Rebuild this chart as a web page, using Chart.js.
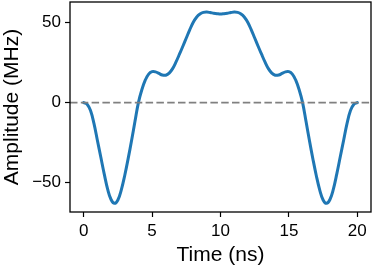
<!DOCTYPE html>
<html><head><meta charset="utf-8">
<script src="https://cdn.jsdelivr.net/npm/chart.js@4/dist/chart.umd.min.js"></script>
<style>html,body{margin:0;padding:0;background:#fff}#w{width:374px;height:269px}</style>
</head><body><div id="w"><canvas id="c"></canvas></div>
<script>
const timeNs = [0,0.25,0.5,0.75,1,1.25,1.5,1.75,2,2.25,2.5,2.75,3,3.25,3.5,3.75,4,4.25,4.5,4.75,5,5.25,5.5,5.75,6,6.25,6.5,6.75,7,7.25,7.5,7.75,8,8.25,8.5,8.75,9,9.25,9.5,9.75,10,10.25,10.5,10.75,11,11.25,11.5,11.75,12,12.25,12.5,12.75,13,13.25,13.5,13.75,14,14.25,14.5,14.75,15,15.25,15.5,15.75,16,16.25,16.5,16.75,17,17.25,17.5,17.75,18,18.25,18.5,18.75,19,19.25,19.5,19.75,20];
const amplitude = [0,-1,-5,-13,-23.5,-34,-44.5,-54,-60.5,-62.9,-60.8,-54.5,-45.5,-35,-23.7,-11.7,0,8,14,17.8,19.3,19.2,18.2,17.2,17.1,18.4,21.2,25.4,30.2,35.2,40.3,45.4,50,53.3,55.3,56.3,56.5,56.2,55.8,55.5,55.3,55.5,55.8,56.2,56.5,56.3,55.3,53.3,50,45.4,40.3,35.2,30.2,25.4,21.2,18.4,17.1,17.2,18.2,19.2,19.3,17.8,14,8,0,-11.7,-23.7,-35,-45.5,-54.5,-60.8,-62.9,-60.5,-54,-44.5,-34,-23.5,-13,-5,-1,0];
const refLineX = [-1, 21];
const refLineY = [0, 0];
const xTicks = [0,5,10,15,20];
const yTicks = [-50,0,50];

const FONT = "'Liberation Sans', Arial, sans-serif";
const frame = {
  id:'frame',
  afterDraw(chart){
    const a = chart.chartArea, ctx = chart.ctx;
    ctx.save(); ctx.strokeStyle='#000'; ctx.lineWidth=1.3;
    ctx.strokeRect(a.left, a.top, a.right-a.left, a.bottom-a.top);
    ctx.restore();
  }
};
new Chart(document.getElementById('c'), {
  type:'line',
  data:{datasets:[
    {data: refLineX.map((x,i)=>({x, y: refLineY[i]})), borderColor:'#808080', borderWidth:1.6, borderDash:[7.5,3.3], pointRadius:0, fill:false},
    {data: timeNs.map((x,i)=>({x, y: amplitude[i]})), borderColor:'#1f77b4', borderWidth:3, pointRadius:0, tension:0.4, borderCapStyle:'round', borderJoinStyle:'round', fill:false}
  ]},
  plugins:[frame],
  options:{
    responsive:true, maintainAspectRatio:false, animation:false,
    layout:{padding:{top:2,right:3,left:0,bottom:0}},
    plugins:{legend:{display:false}, tooltip:{enabled:false}},
    scales:{
      x:{type:'linear', min:-1, max:21,
        afterBuildTicks(s){ s.ticks = xTicks.map(v=>({value:v})); },
        afterFit(s){ s.height = 57; s.paddingLeft = 0; s.paddingRight = 0; },
        grid:{drawOnChartArea:false, tickLength:5, tickColor:'#000', tickWidth:1.2},
        border:{display:false},
        ticks:{color:'#000', font:{family:FONT, size:17}, padding:4, maxRotation:0},
        title:{display:true, text:'Time (ns)', color:'#000', font:{family:FONT, size:21}, padding:{top:0,bottom:1}}
      },
      y:{type:'linear', min:-68.3, max:62.8,
        afterBuildTicks(s){ s.ticks = yTicks.map(v=>({value:v})); },
        afterFit(s){ s.width = 70; s.paddingTop = 0; s.paddingBottom = 0; },
        grid:{drawOnChartArea:false, tickLength:5, tickColor:'#000', tickWidth:1.2},
        border:{display:false},
        ticks:{color:'#000', font:{family:FONT, size:17}, padding:4, callback:v=>String(v).replace('-','\u2212')},
        title:{display:true, text:'Amplitude (MHz)', color:'#000', font:{family:FONT, size:21}, padding:{top:0,bottom:0}}
      }
    }
  }
});
</script></body></html>
